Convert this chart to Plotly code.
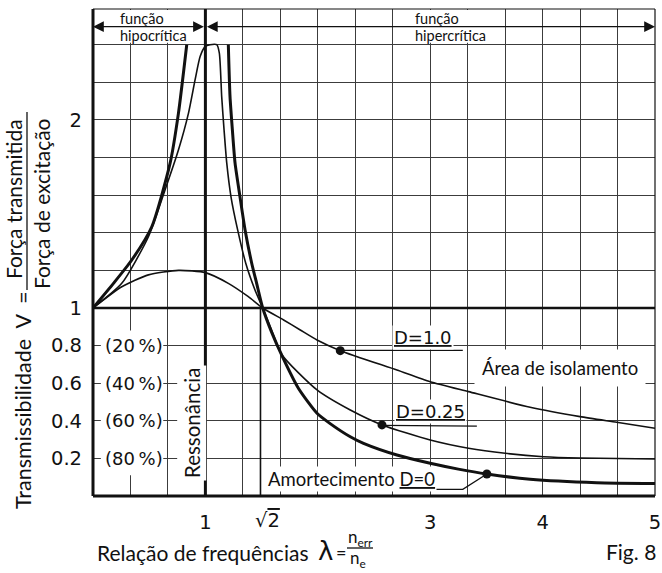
import plotly.graph_objects as go

# ---------------- data ----------------
# D = 0 (undamped), two branches around resonance
lam_d0_low = [0.0, 0.182, 0.345, 0.523, 0.686, 0.76, 0.834]
v_d0_low = [1.0, 1.131, 1.255, 1.432, 1.77, 2.035, 2.40]
lam_d0_high = [1.204, 1.219, 1.240, 1.264, 1.308, 1.353, 1.412, 1.456, 1.51, 1.59,
               1.682, 1.83, 1.993, 2.11, 2.289, 2.407, 2.704, 3.0, 3.25, 3.504,
               3.889, 4.481, 5.0]
v_d0_high = [2.40, 2.124, 1.947, 1.77, 1.59, 1.415, 1.238, 1.131, 1.0, 0.87,
             0.745, 0.57, 0.44, 0.385, 0.315, 0.28, 0.218, 0.174, 0.143, 0.117,
             0.089, 0.071, 0.067]
# D = 0.25
lam_d025 = [0.0, 0.256, 0.493, 0.641, 0.76, 0.849, 0.908, 0.953, 0.997, 1.041,
            1.101, 1.124, 1.145, 1.166, 1.19, 1.228, 1.287, 1.359, 1.441, 1.51,
            1.59, 1.682, 1.993, 2.289, 2.571, 3.0, 3.341, 3.667, 4.007, 4.333, 5.0]
v_d025 = [1.0, 1.131, 1.379, 1.628, 1.84, 2.035, 2.213, 2.337, 2.39, 2.40,
          2.40, 2.355, 2.124, 1.947, 1.77, 1.59, 1.415, 1.238, 1.096, 1.0,
          0.88, 0.75, 0.564, 0.457, 0.378, 0.298, 0.254, 0.227, 0.209, 0.202, 0.197]
# D = 1.0
lam_d1 = [0.0, 0.256, 0.493, 0.76, 1.0, 1.204, 1.382, 1.51, 1.696, 1.844, 1.993,
          2.2, 2.704, 3.0, 3.341, 3.889, 4.333, 4.659, 5.0]
v_d1 = [1.0, 1.113, 1.176, 1.20, 1.188, 1.131, 1.06, 1.0, 0.936, 0.883, 0.83,
        0.773, 0.67, 0.608, 0.555, 0.472, 0.422, 0.392, 0.36]

# marker dots on the curves and their leader lines
dot_lam = [2.2, 2.571, 3.504]
dot_v = [0.773, 0.378, 0.117]
leader_d1_lam = [2.2, 3.29]
leader_d1_v = [0.775, 0.775]
leader_d025_lam = [2.571, 3.415]
leader_d025_v = [0.376, 0.372]
leader_d0_lam = [3.03, 3.29, 3.504]
leader_d0_v = [0.035, 0.035, 0.117]

# axis ticks
x_tick_vals = [1, 3, 4, 5]
x_tick_text = ["1", "3", "4", "5"]
sqrt2_pos = 1.49
y_tick_vals = [0.2, 0.4, 0.6, 0.8, 1, 2]
y_tick_text = ["0.2", "0.4", "0.6", "0.8", "1", "2"]
pct_vals = [0.8, 0.6, 0.4, 0.2]
pct_text = ["(20\u2009%)", "(40\u2009%)", "(60\u2009%)", "(80\u2009%)"]
x_range = [0, 5]
y_range = [0, 2.59]

# ---------------- layout helpers ----------------
W, H = 662, 573
L, R, T, B = 93, 7, 9, 77
PW, PH = W - L - R, H - T - B
FONT = "Lato"
NUMFONT = "DejaVu Sans"
INK = "#111111"
GRID = "#3c3c3c"


def px(xp):
    return (xp - L) / PW


def py(yp):
    return (H - B - yp) / PH


def font(size, fam=FONT):
    return dict(family=fam, size=size, color=INK)


fig = go.Figure()

fig.add_trace(go.Scatter(x=lam_d1, y=v_d1, mode="lines", line=dict(color=INK, width=1.6, shape="spline", smoothing=0.6)))
fig.add_trace(go.Scatter(x=lam_d025, y=v_d025, mode="lines", line=dict(color=INK, width=1.6, shape="spline", smoothing=0.6)))
fig.add_trace(go.Scatter(x=lam_d0_low, y=v_d0_low, mode="lines", line=dict(color=INK, width=3, shape="spline", smoothing=0.6)))
fig.add_trace(go.Scatter(x=lam_d0_high, y=v_d0_high, mode="lines", line=dict(color=INK, width=3, shape="spline", smoothing=0.6)))
for lx, ly in [(leader_d1_lam, leader_d1_v), (leader_d025_lam, leader_d025_v), (leader_d0_lam, leader_d0_v)]:
    fig.add_trace(go.Scatter(x=lx, y=ly, mode="lines", line=dict(color=INK, width=1.3)))
fig.add_trace(go.Scatter(x=dot_lam, y=dot_v, mode="markers", marker=dict(color=INK, size=9)))

shapes = []
# white masks hiding the grid behind texts
masks = [
    (0.07, 0.625, 0.11, 0.88),      # percentage column
    (0.11, 0.91, 2.41, 2.585),      # função hipocrítica
    (2.70, 3.64, 2.41, 2.585),      # função hipercrítica
]
for x0, x1, y0, y1 in masks:
    shapes.append(dict(type="rect", xref="x", yref="y", x0=x0, x1=x1, y0=y0, y1=y1,
                       fillcolor="white", line=dict(width=0), layer="between"))
# bold reference lines
shapes.append(dict(type="line", xref="x", yref="y", x0=x_range[0], x1=x_range[1], y0=1, y1=1,
                   line=dict(color=INK, width=2.5), layer="between"))
shapes.append(dict(type="line", xref="x", yref="y", x0=1, x1=1, y0=y_range[0], y1=y_range[1],
                   line=dict(color=INK, width=3), layer="between"))
shapes.append(dict(type="line", xref="x", yref="y", x0=sqrt2_pos, x1=sqrt2_pos, y0=0, y1=1,
                   line=dict(color=INK, width=1.6), layer="between"))
# frame
shapes.append(dict(type="line", xref="paper", yref="paper", x0=0, x1=0, y0=0, y1=1, line=dict(color=INK, width=3)))
shapes.append(dict(type="line", xref="paper", yref="paper", x0=0, x1=1, y0=0, y1=0, line=dict(color=INK, width=3)))
shapes.append(dict(type="line", xref="paper", yref="paper", x0=0, x1=1, y0=1, y1=1, line=dict(color=INK, width=1.2)))
shapes.append(dict(type="line", xref="paper", yref="paper", x0=1, x1=1, y0=0, y1=1, line=dict(color=INK, width=1.2)))
# fraction bars of the axis titles
shapes.append(dict(type="line", xref="paper", yref="paper", x0=px(27), x1=px(27), y0=py(290), y1=py(112),
                   line=dict(color=INK, width=1.3)))
shapes.append(dict(type="line", xref="paper", yref="paper", x0=px(347), x1=px(373), y0=py(548), y1=py(548),
                   line=dict(color=INK, width=1.3)))

ann = []


def pap(xp, yp, text, f, angle=0, xa="center", ya="middle", **kw):
    d = dict(x=px(xp), y=py(yp), xref="paper", yref="paper", text=text, showarrow=False,
             font=f, textangle=angle, xanchor=xa, yanchor=ya)
    d.update(kw)
    return d


# arrows at the top
for head, tail in [(0, 1), (5, 1)]:
    ann.append(dict(x=head, y=2.496, ax=tail, ay=2.496, xref="x", yref="y", axref="x", ayref="y", text="",
                    showarrow=True, arrowside="end+start", arrowhead=2, startarrowhead=2,
                    arrowsize=1.8, startarrowsize=1.8, arrowwidth=1.2, arrowcolor=INK))
ann.append(pap(118, 19, "função", font(14.5), xa="left"))
ann.append(pap(118, 36, "hipocrítica", font(14.5), xa="left"))
ann.append(pap(413, 19, "função", font(14.5), xa="left"))
ann.append(pap(413, 36, "hipercrítica", font(14.5), xa="left"))

# percentage labels
for v, t in zip(pct_vals, pct_text):
    ann.append(dict(x=0.364, y=v, xref="x", yref="y", text=t, showarrow=False, font=font(18, NUMFONT)))

ann.append(dict(x=0.875, y=0.39, xref="x", yref="y", text="Ressonância", textangle=-90, showarrow=False,
                font=font(20.5), bgcolor="white", borderpad=2))
ann.append(dict(x=2.933, y=0.843, xref="x", yref="y", text="<u>D=1.0</u>", showarrow=False,
                font=font(18, NUMFONT), bgcolor="white", borderpad=1))
ann.append(dict(x=3.007, y=0.448, xref="x", yref="y", text="<u>D=0.25</u>", showarrow=False,
                font=font(18, NUMFONT), bgcolor="white", borderpad=1))
ann.append(dict(x=2.302, y=0.09, xref="x", yref="y", text="Amortecimento <u>D=0</u>", showarrow=False,
                font=font(18.5), bgcolor="white", borderpad=1))
ann.append(dict(x=4.156, y=0.68, xref="x", yref="y", text="Área de isolamento", showarrow=False,
                font=font(18.5), bgcolor="white", borderpad=7))

# sqrt(2) tick label
ann.append(dict(x=sqrt2_pos, y=py(520), xref="x", yref="paper", xshift=7, yanchor="middle",
                text="√<span style='text-decoration:overline'>2</span>", showarrow=False,
                font=font(19.5, NUMFONT)))

# y axis title
ann.append(pap(23, 400, "Transmissibilidade  V  =", font(21.5), angle=-90))
ann.append(pap(13, 199, "Força transmitida", font(21), angle=-90))
ann.append(pap(41, 204, "Força de excitação", font(21), angle=-90))

# x axis title
ann.append(pap(95, 552, "Relação de frequências", font(21), xa="left"))
ann.append(pap(325, 551, "λ", font(26, NUMFONT)))
ann.append(pap(341, 552, "=", font(18)))
ann.append(pap(360, 538, "n<sub>err</sub>", font(17)))
ann.append(pap(358, 559, "n<sub>e</sub>", font(17)))
ann.append(pap(658, 551, "Fig. 8", font(21), xa="right"))

fig.update_layout(
    width=W, height=H,
    margin=dict(l=L, r=R, t=T, b=B),
    paper_bgcolor="white", plot_bgcolor="white",
    showlegend=False,
    font=font(20),
    shapes=shapes,
    annotations=ann,
    xaxis=dict(range=x_range, tickmode="array", tickvals=x_tick_vals, ticktext=x_tick_text,
               showgrid=True, gridcolor=GRID, gridwidth=1, zeroline=False, showline=False,
               ticks="", ticklabelstandoff=12, tickfont=font(19.5, NUMFONT), automargin=False,
               minor=dict(tick0=0, dtick=1 / 3, showgrid=True, gridcolor=GRID, gridwidth=1, ticks="")),
    yaxis=dict(range=y_range, tickmode="array", tickvals=y_tick_vals, ticktext=y_tick_text,
               showgrid=True, gridcolor=GRID, gridwidth=1, zeroline=False, showline=False,
               ticks="", ticklabelstandoff=10, tickfont=font(19.5, NUMFONT), automargin=False,
               minor=dict(tick0=0, dtick=0.2, showgrid=True, gridcolor=GRID, gridwidth=1, ticks="")),
)

fig.write_html("out.html", config={"displayModeBar": False},
               post_script="document.body.style.margin='0px';")
